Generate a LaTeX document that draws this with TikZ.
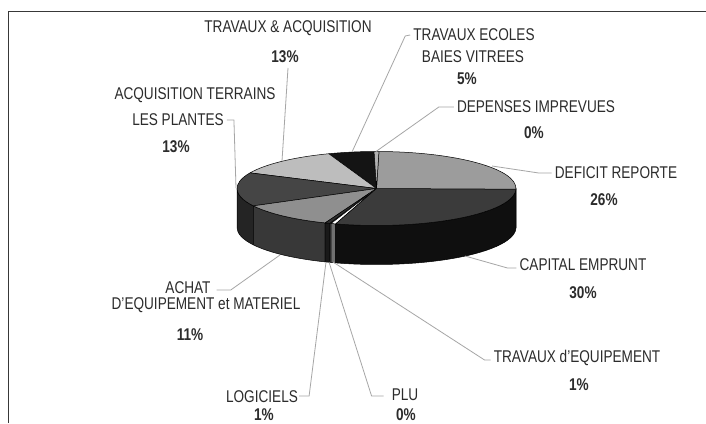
\documentclass[tikz,border=0pt]{standalone}
\usepackage{fontspec}
\setmainfont{Liberation Sans}[FakeStretch=0.8]
\usetikzlibrary{calc}
\definecolor{txt}{HTML}{2c2c2c}
\newcommand\ptop[3]{\filldraw[fill=#3,draw=black,line width=0.5pt,line join=round] (C) -- ($(C)+(#1:139.5pt and 37pt)$) arc[start angle=#1,end angle=#2,x radius=139.5pt,y radius=37pt] -- cycle;}
\newcommand\pside[3]{\filldraw[fill=#3,draw=black,line width=0.5pt,line join=round] ($(C)+(#1:139.5pt and 37pt)$) arc[start angle=#1,end angle=#2,x radius=139.5pt,y radius=37pt] -- ++(0,-39pt) arc[start angle=#2,end angle=#1,x radius=139.5pt,y radius=37pt] -- cycle;}
\begin{document}
\begin{tikzpicture}[x=1pt,y=1pt,
  lab/.style={text=txt,font=\fontsize{17}{20}\selectfont,inner sep=0pt},
  pct/.style={text=txt,font=\fontsize{17}{20}\selectfont\bfseries,inner sep=0pt},
  leader/.style={draw=black!35,line width=0.8pt,line join=round}]
\useasboundingbox (0,0) rectangle (706,423);
\fill[white] (0,0) rectangle (706,423);
% frame
\draw[line width=1.6pt,draw=black!78] (8.5,0) -- (8.5,411.5) -- (706,411.5);
% pie
\coordinate (C) at (376.5,234.5);
% sides
\pside{180}{208}{black!86}
\pside{208}{248.4}{black!78}
\pside{248.4}{250.5}{black!90}
\pside{250.5}{251}{black!70}
\pside{251}{253}{black!56}
\pside{253}{359}{black!94}
\pside{359}{360}{black!70}
% tops
\ptop{91}{110}{black!92}
\ptop{110}{155}{black!26}
\ptop{155}{208}{black!73}
\ptop{208}{248.4}{black!44}
\ptop{248.4}{250.5}{black!82}
\ptop{250.5}{251}{black!55}
\ptop{251}{253}{white}
\ptop{253}{359}{black!77}
\ptop{-1}{89}{black!39}
\ptop{89}{91}{black!30}
% labels
\node[lab] (ta) at (288,395) {TRAVAUX \& ACQUISITION};
\node[pct] (tap) at (285,366) {13\%};
\node[lab] (te1) at (474,388) {TRAVAUX ECOLES};
\node[lab] (te2) at (473,366) {BAIES VITREES};
\node[pct] (tep) at (467,344) {5\%};
\node[lab] (di) at (536,316) {DEPENSES IMPREVUES};
\node[pct] (dip) at (534,290) {0\%};
\node[lab] (dr) at (616,250) {DEFICIT REPORTE};
\node[pct] (drp) at (604,223) {26\%};
\node[lab] (ce) at (583,158) {CAPITAL EMPRUNT};
\node[pct] (cep) at (583,130) {30\%};
\node[lab] (tq) at (577,65) {TRAVAUX d'EQUIPEMENT};
\node[pct] (tqp) at (579,38) {1\%};
\node[lab] (plu) at (405,28) {PLU};
\node[pct] (plup) at (406,8) {0\%};
\node[lab] (log) at (262,26) {LOGICIELS};
\node[pct] (logp) at (264,8) {1\%};
\node[lab] (ac1) at (188,135) {ACHAT};
\node[lab] (ac2) at (206,118) {D'EQUIPEMENT et MATERIEL};
\node[pct] (acp) at (190,88) {11\%};
\node[lab] (at1) at (195,328) {ACQUISITION TERRAINS};
\node[lab] (at2) at (178,303) {LES PLANTES};
\node[pct] (atp) at (176,276) {13\%};
% leader points
\coordinate (eTA) at (282,262);
\coordinate (eTE) at (352,271);
\coordinate (eDI) at (376,271.5);
\coordinate (eDR) at (492,257);
\coordinate (eCE) at (465,167);
\coordinate (eTQ) at (333,161);
\coordinate (ePLU) at (329,161);
\coordinate (eLOG) at (326,161);
\coordinate (eAC) at (280,168);
\coordinate (eAT) at (236,235);
% leaders
\draw[leader] (288,355) -- (eTA);
\draw[leader] (te1.west) ++(-3,0) -- ++(-5,-1) -- (eTE);
\draw[leader] (di.west) ++(-3,0) -- ++(-15,0) -- (eDI);
\draw[leader] (dr.west) ++(-3,0) -- ++(-13,0) -- (eDR);
\draw[leader] (ce.west) ++(-3,-3) -- ++(-9,0) -- (eCE);
\draw[leader] (tq.west) ++(-3,-2) -- ++(-6,0) -- (eTQ);
\draw[leader] (plu.west) ++(-8,-1) -- ++(-12,0) -- (ePLU);
\draw[leader] (log.east) ++(1,1) -- ++(10,0) -- (eLOG);
\draw[leader] (ac1.east) ++(6,-2) -- ++(14,0) -- (eAC);
\draw[leader] (at2.east) ++(3,0) -- ++(7,0) -- (eAT);
\end{tikzpicture}
\end{document}
